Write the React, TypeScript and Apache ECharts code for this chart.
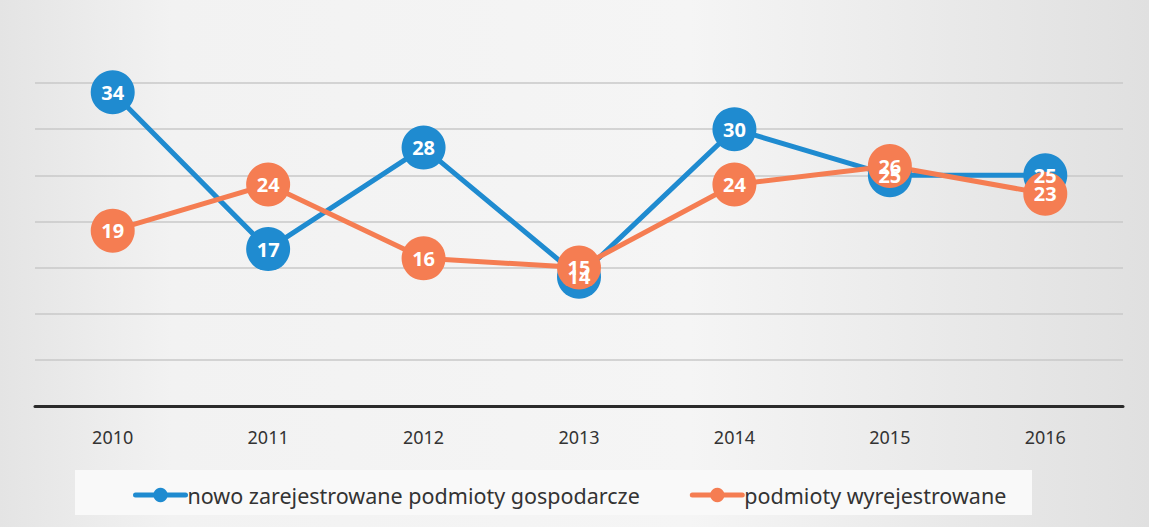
import React, { useEffect, useRef } from "react";
import * as echarts from "echarts";

const years = ["2010", "2011", "2012", "2013", "2014", "2015", "2016"];
const registered = [34, 17, 28, 14, 30, 25, 25];
const deregistered = [19, 24, 16, 15, 24, 26, 23];
const seriesNames = ["nowo zarejestrowane podmioty gospodarcze", "podmioty wyrejestrowane"];

const BLUE = "#1f8bd0";
const ORANGE = "#f57d52";
const FONT = "Noto Sans";

export default function App() {
  const ref = useRef<HTMLDivElement>(null);
  useEffect(() => {
    if (!ref.current) return;
    const chart = echarts.init(ref.current, undefined, { renderer: "svg" });
    const mkSeries = (name: string, data: number[], color: string) => ({
      name,
      type: "line",
      data,
      symbol: "circle",
      symbolSize: 44,
      itemStyle: { color },
      lineStyle: { color, width: 5 },
      label: {
        show: true,
        position: "inside",
        color: "#ffffff",
        fontFamily: FONT,
        fontWeight: "bold",
        fontSize: 20,
      },
    });
    chart.setOption({
      animation: false,
      backgroundColor: new echarts.graphic.LinearGradient(0, 0, 1, 0, [
        { offset: 0, color: "#e4e4e4" },
        { offset: 0.15, color: "#f2f2f2" },
        { offset: 0.6, color: "#f5f5f5" },
        { offset: 1, color: "#e0e0e0" },
      ]),
      textStyle: { fontFamily: FONT },
      graphic: [
        {
          type: "rect",
          z: -1,
          shape: { x: 75, y: 470, width: 957, height: 45 },
          style: { fill: "#f9f9f9" },
        },
      ],
      grid: { left: 35, right: 26, top: 83, bottom: 121 },
      legend: {
        left: 128,
        top: 479,
        itemWidth: 50,
        itemHeight: 18,
        itemGap: 50,
        data: seriesNames,
        lineStyle: { width: 5, cap: "round" },
        textStyle: { fontFamily: FONT, fontSize: 21.5, color: "#333", padding: [0, 0, 0, -3] },
      },
      xAxis: {
        type: "category",
        data: years,
        boundaryGap: true,
        axisLine: { lineStyle: { color: "#2b2b2b", width: 3 } },
        axisTick: { show: false },
        axisLabel: { fontFamily: FONT, fontSize: 18, color: "#333", margin: 22 },
      },
      yAxis: {
        type: "value",
        min: 0,
        max: 35,
        interval: 5,
        axisLabel: { show: false },
        axisLine: { show: false },
        axisTick: { show: false },
        splitLine: { lineStyle: { color: "#c8c8c8", width: 1.5 } },
      },
      series: [
        mkSeries(seriesNames[0], registered, BLUE),
        mkSeries(seriesNames[1], deregistered, ORANGE),
      ],
    });
    return () => chart.dispose();
  }, []);
  return <div ref={ref} style={{ width: 1149, height: 527, position: "absolute", left: 0, top: 0 }} />;
}
